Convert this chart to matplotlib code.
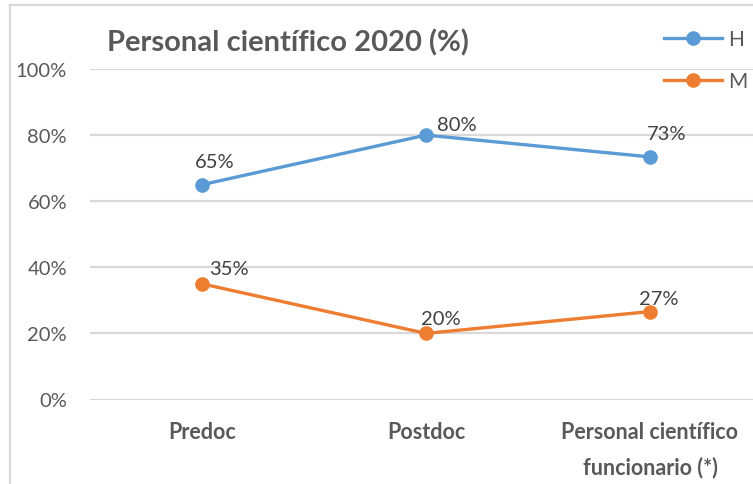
import matplotlib
matplotlib.use("Agg")
import matplotlib.pyplot as plt
from matplotlib.lines import Line2D

categories = ["Predoc", "Postdoc", "Personal científico\nfuncionario (*)"]
h_values = [65.0, 80.0, 73.4]
m_values = [35.0, 20.0, 26.6]
series_names = ["H", "M"]
y_ticks = [0, 20, 40, 60, 80, 100]
title = "Personal científico 2020 (%)"

BLUE = "#5B9BD5"
ORANGE = "#ED7D31"
GRID = "#D9D9D9"
TXT = "#595959"
LBL = "#404040"
FONT = "Lato"

# label offsets in pixels (style only)
h_off = [(13, 23), (31, 10.5), (17, 23)]
m_off = [(27, 15), (15, 15), (8.5, 13.5)]

fig = plt.figure(figsize=(7.53, 4.85), dpi=100)
ax = fig.add_axes([90/753, (485-400.5)/485, (753-90)/753, (400.5-70)/485])

x = list(range(len(categories)))
lh, = ax.plot(x, h_values, color=BLUE, lw=2.4, marker="o", ms=9.5, zorder=3, label=series_names[0])
lm, = ax.plot(x, m_values, color=ORANGE, lw=2.4, marker="o", ms=9.5, zorder=3, label=series_names[1])

for vals, offs in ((h_values, h_off), (m_values, m_off)):
    for xi, v, o in zip(x, vals, offs):
        ax.annotate(f"{v:.0f}%", (xi, v), xytext=o, textcoords="offset pixels",
                    ha="center", va="center", fontsize=14.5, color=LBL, family=FONT)

ax.set_xlim(-0.5, 2.46)
ax.set_ylim(0, 100)
ax.set_yticks(y_ticks)
ax.set_yticklabels([f"{t}%" for t in y_ticks], fontsize=14.5, color=TXT, family=FONT)
ax.set_xticks(x)
ax.set_xticklabels(categories, fontsize=15.5, color=TXT, family=FONT, fontweight="bold",
                   va="top", linespacing=1.75)
ax.tick_params(axis="y", length=0, pad=16.5)
ax.tick_params(axis="x", length=0, pad=15.5)
ax.grid(axis="y", color=GRID, lw=1.6)
ax.set_axisbelow(True)
for s in ax.spines.values():
    s.set_visible(False)
ax.patch.set_alpha(0)

fig.text(107/753, (485-51)/485, title, fontsize=21, fontweight="bold", color=TXT,
         family=FONT, ha="left", va="baseline")

leg = fig.legend(handles=[lh, lm], loc="upper left", bbox_to_anchor=(664/753, (485-30)/485),
                 frameon=False, handlelength=2.8, handletextpad=0.3,
                 labelspacing=1.06, borderpad=0, borderaxespad=0,
                 prop={"family": FONT, "size": 15})
for t in leg.get_texts():
    t.set_color(TXT)

# chart frame (left and top edges visible)
fig.add_artist(Line2D([10/753, 10/753], [0, (485-6)/485], transform=fig.transFigure, color=GRID, lw=1.6))
fig.add_artist(Line2D([10/753, 1], [(485-6)/485, (485-6)/485], transform=fig.transFigure, color=GRID, lw=1.6))

fig.savefig("out.png", dpi=100)
